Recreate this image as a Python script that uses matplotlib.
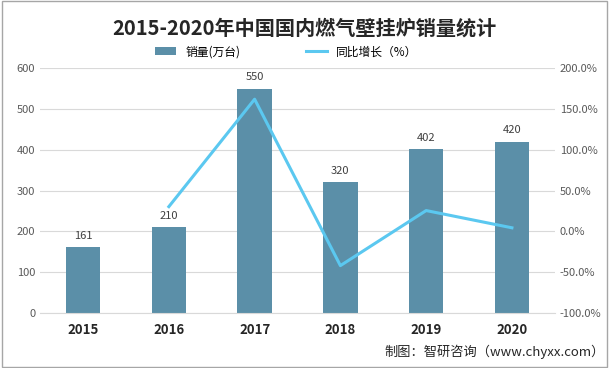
import matplotlib.pyplot as plt
from matplotlib.patches import Rectangle

plt.rcParams['font.family'] = ['Noto Sans CJK SC', 'DejaVu Sans']

years = ['2015', '2016', '2017', '2018', '2019', '2020']
sales = [161, 210, 550, 320, 402, 420]
growth = [None, 30.4, 161.9, -41.8, 25.6, 4.5]

bar_color = '#5b8fa8'
line_color = '#5bc8f0'

fig = plt.figure(figsize=(6.09, 3.68), dpi=100)
ax = fig.add_axes([0.066, 0.149, 0.845, 0.666])
x = list(range(len(years)))
ax.bar(x, sales, width=0.4, color=bar_color, zorder=2, label='销量(万台)')
for xi, v in zip(x, sales):
    ax.text(xi, v + 15, str(v), ha='center', va='bottom', fontsize=8, color='#404040')
ax.set_ylim(0, 600)
ax.set_xlim(-0.5, 5.5)
ax.set_yticks(range(0, 601, 100))
ax.yaxis.grid(True, color='#d9d9d9', linewidth=0.8, zorder=0)
ax.set_xticks(x)
ax.set_xticklabels(years, fontsize=9.5, fontweight='bold', color='#262626')
for s in ax.spines.values():
    s.set_visible(False)
ax.spines['bottom'].set_visible(True)
ax.spines['bottom'].set_color('#d9d9d9')
ax.tick_params(axis='y', length=0, labelsize=8, colors='#595959')
ax.tick_params(axis='x', length=0, pad=7, labelcolor='#262626')

ax2 = ax.twinx()
gx = [xi for xi, g in zip(x, growth) if g is not None]
gy = [g for g in growth if g is not None]
ax2.plot(gx, gy, color=line_color, linewidth=2.2, zorder=3, label='同比增长（%）')
ax2.set_ylim(-100, 200)
ax2.set_yticks(range(-100, 201, 50))
ax2.set_yticklabels(['%.1f%%' % t for t in range(-100, 201, 50)])
for s in ax2.spines.values():
    s.set_visible(False)
ax2.tick_params(axis='y', length=0, labelsize=8, colors='#595959')

fig.text(0.5, 0.925, '2015-2020年中国国内燃气壁挂炉销量统计', ha='center', va='center',
         fontsize=14.5, fontweight='bold', color='#262626')

h1, l1 = ax.get_legend_handles_labels()
h2, l2 = ax2.get_legend_handles_labels()
fig.legend(h1 + h2, l1 + l2, loc='center', bbox_to_anchor=(0.47, 0.859), ncol=2,
           frameon=False, fontsize=8.5, columnspacing=5.5, handlelength=1.8)

fig.text(0.993, 0.043, '制图：智研咨询（www.chyxx.com）', ha='right', va='center',
         fontsize=9.5, color='#262626')

fig.patches.append(Rectangle((0.004, 0.004), 0.992, 0.992, transform=fig.transFigure,
                             fill=False, edgecolor='#a6a6a6', linewidth=1))

fig.savefig('out.png', dpi=100)
